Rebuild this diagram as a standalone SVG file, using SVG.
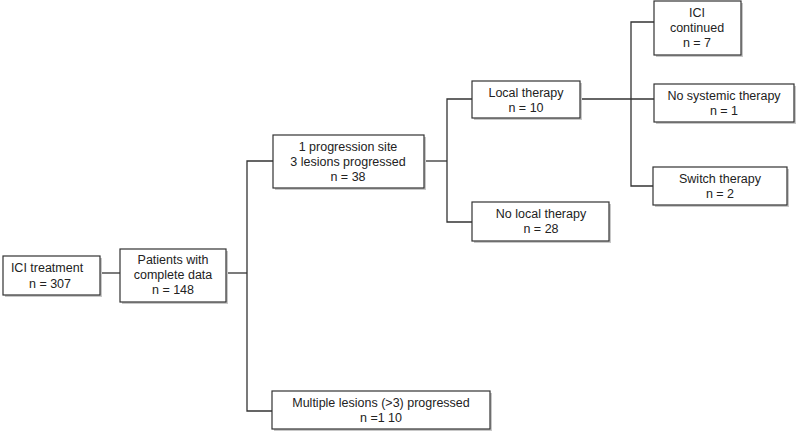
<svg xmlns="http://www.w3.org/2000/svg" width="798" height="432" viewBox="0 0 798 432">
<style>
.sh{fill:#c8c8c8;}
.bx{fill:#fff;stroke:#333;stroke-width:1.2;}
.t{font-family:"Liberation Sans",Arial,sans-serif;font-size:12.5px;fill:#222;text-anchor:middle;}
.c{fill:none;stroke:#333;stroke-width:1.3;}
</style>
<rect width="798" height="432" fill="#fff"/>
<g id="connectors">
<path class="c" d="M100 273H120"/>
<path class="c" d="M226 273H247"/>
<path class="c" d="M273 161H247V411H272"/>
<path class="c" d="M424 161H447"/>
<path class="c" d="M472 99H447V222H472"/>
<path class="c" d="M580 99H654"/>
<path class="c" d="M654 22H631V186H653"/>
</g>
<g id="n1"><rect class="sh" x="5" y="258" width="97" height="39"/><rect class="bx" x="3" y="256" width="97" height="39"/>
<text class="t" x="47" y="272">ICI treatment</text><text class="t" x="50" y="288">n = 307</text></g>
<g id="n2"><rect class="sh" x="122" y="251" width="106" height="53"/><rect class="bx" x="120" y="249" width="106" height="53"/>
<text class="t" x="173" y="264">Patients with</text><text class="t" x="173" y="279">complete data</text><text class="t" x="173" y="294">n = 148</text></g>
<g id="n3"><rect class="sh" x="275" y="137" width="151" height="53"/><rect class="bx" x="273" y="135" width="151" height="53"/>
<text class="t" x="348" y="151">1 progression site</text><text class="t" x="348" y="166">3 lesions progressed</text><text class="t" x="348" y="181">n = 38</text></g>
<g id="n4"><rect class="sh" x="274" y="393" width="218" height="38"/><rect class="bx" x="272" y="391" width="218" height="38"/>
<text class="t" x="381" y="407">Multiple lesions (&gt;3) progressed</text><text class="t" x="381" y="422">n =1 10</text></g>
<g id="n5"><rect class="sh" x="474" y="83" width="108" height="37"/><rect class="bx" x="472" y="81" width="108" height="37"/>
<text class="t" x="526" y="97">Local therapy</text><text class="t" x="526" y="112">n = 10</text></g>
<g id="n6"><rect class="sh" x="474" y="204" width="137" height="39"/><rect class="bx" x="472" y="202" width="137" height="39"/>
<text class="t" x="541" y="218">No local therapy</text><text class="t" x="541" y="233">n = 28</text></g>
<g id="n7"><rect class="sh" x="656" y="3" width="87" height="54"/><rect class="bx" x="654" y="1" width="87" height="54"/>
<text class="t" x="697" y="17">ICI</text><text class="t" x="697" y="32">continued</text><text class="t" x="697" y="47">n = 7</text></g>
<g id="n8"><rect class="sh" x="656" y="86" width="140" height="38"/><rect class="bx" x="654" y="84" width="140" height="38"/>
<text class="t" x="724" y="100">No systemic therapy</text><text class="t" x="724" y="115">n = 1</text></g>
<g id="n9"><rect class="sh" x="655" y="169" width="134" height="38"/><rect class="bx" x="653" y="167" width="134" height="38"/>
<text class="t" x="720" y="183">Switch therapy</text><text class="t" x="720" y="198">n = 2</text></g>
</svg>
